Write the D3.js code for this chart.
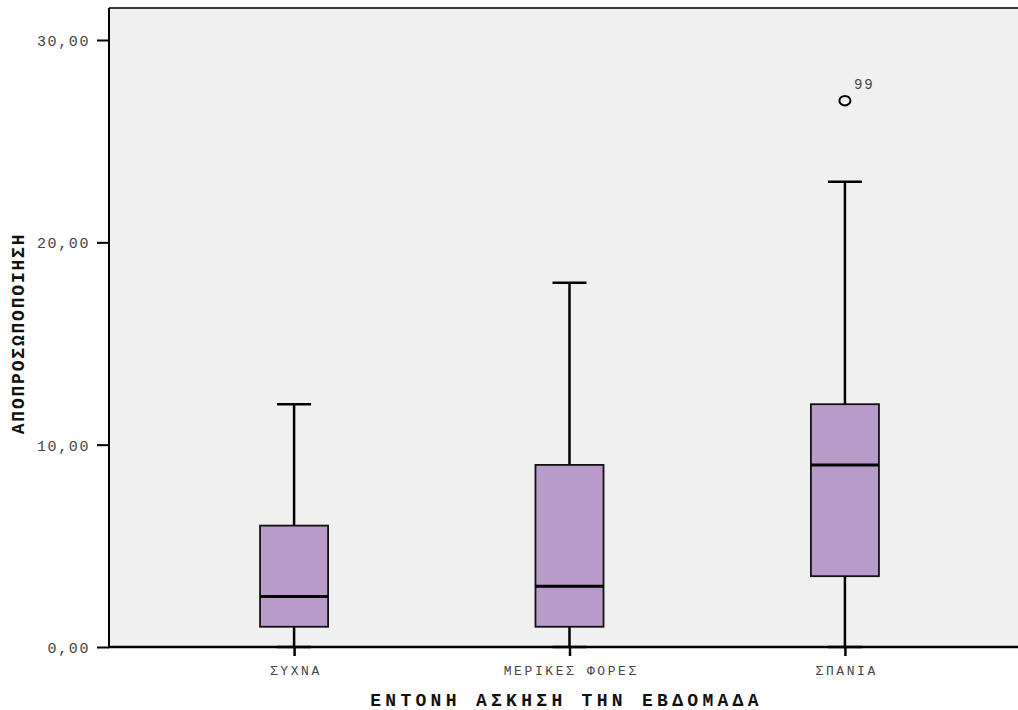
<!DOCTYPE html>
<html>
<head>
<meta charset="utf-8">
<script src="https://cdn.jsdelivr.net/npm/d3@7"></script>
<style>
  html, body { margin: 0; padding: 0; background: #ffffff; }
  svg { display: block; }
</style>
</head>
<body>
<svg id="chart" width="1018" height="710"></svg>
<script>
// Group labels (exercise frequency)
const categories = ["ΣΥΧΝΑ", "ΜΕΡΙΚΕΣ ΦΟΡΕΣ", "ΣΠΑΝΙΑ"];
// Five-number summaries per group
const whiskerLow  = [0, 0, 0];
const quartile1   = [1, 1, 3.5];
const medians     = [2.5, 3, 9];
const quartile3   = [6, 9, 12];
const whiskerHigh = [12, 18, 23];
// Outliers: group, value, case id
const outlierGroups = ["ΣΠΑΝΙΑ"];
const outlierValues = [27];
const outlierIds    = ["99"];
// Axis ticks and titles
const yTicks = [0, 10, 20, 30];
const xTitle = "ΕΝΤΟΝΗ ΑΣΚΗΣΗ ΤΗΝ ΕΒΔΟΜΑΔΑ";
const yTitle = "ΑΠΟΠΡΟΣΩΠΟΠΟΙΗΣΗ";

const svg = d3.select("#chart");
const plot = { left: 109, top: 8, right: 1030, bottom: 647 };
const font = "'Liberation Mono', 'DejaVu Sans Mono', monospace";

const x = d3.scalePoint().domain(categories).range([plot.left, plot.right]).padding(0.672);
const y = d3.scaleLinear().domain([0, 30]).range([plot.bottom, 40]);
const boxW = x.step() * 0.247;
const capW = boxW / 2;

// Plot background
svg.append("rect")
  .attr("x", plot.left).attr("y", plot.top)
  .attr("width", plot.right - plot.left).attr("height", plot.bottom - plot.top)
  .attr("fill", "#f0f0f0");
svg.append("line")
  .attr("x1", plot.left).attr("x2", plot.right)
  .attr("y1", plot.top).attr("y2", plot.top)
  .attr("stroke", "#3a3a3a").attr("stroke-width", 2);

const rows = categories.map((c, i) => ({
  c, lo: whiskerLow[i], q1: quartile1[i], med: medians[i], q3: quartile3[i], hi: whiskerHigh[i]
}));

const g = svg.append("g");
rows.forEach(r => {
  const cx = x(r.c);
  // whisker stems
  g.append("line").attr("x1", cx).attr("x2", cx).attr("y1", y(r.q3)).attr("y2", y(r.hi))
    .attr("stroke", "#000").attr("stroke-width", 2.5);
  g.append("line").attr("x1", cx).attr("x2", cx).attr("y1", y(r.q1)).attr("y2", y(r.lo))
    .attr("stroke", "#000").attr("stroke-width", 2.5);
  // caps
  [r.hi, r.lo].forEach(v => {
    g.append("line").attr("x1", cx - capW / 2).attr("x2", cx + capW / 2)
      .attr("y1", y(v)).attr("y2", y(v))
      .attr("stroke", "#000").attr("stroke-width", 2.5);
  });
  // box
  g.append("rect")
    .attr("x", cx - boxW / 2).attr("y", y(r.q3))
    .attr("width", boxW).attr("height", y(r.q1) - y(r.q3))
    .attr("fill", "#b99bc9").attr("stroke", "#111").attr("stroke-width", 1.8);
  // median
  g.append("line").attr("x1", cx - boxW / 2).attr("x2", cx + boxW / 2)
    .attr("y1", y(r.med)).attr("y2", y(r.med))
    .attr("stroke", "#000").attr("stroke-width", 3);
});

// Outliers
outlierValues.forEach((v, i) => {
  const cx = x(outlierGroups[i]);
  g.append("ellipse").attr("cx", cx).attr("cy", y(v)).attr("rx", 5.5).attr("ry", 4.8)
    .attr("fill", "none").attr("stroke", "#000").attr("stroke-width", 2);
  g.append("text").attr("x", cx + 9).attr("y", y(v) - 12)
    .attr("font-family", font).attr("font-size", 14).attr("letter-spacing", 2)
    .attr("fill", "#444").text(outlierIds[i]);
});

// Y axis
const yAxis = svg.append("g")
  .attr("transform", `translate(${plot.left},0)`)
  .call(d3.axisLeft(y).tickValues(yTicks).tickSize(12).tickSizeOuter(0)
    .tickFormat(d => d.toFixed(2).replace(".", ",")));
yAxis.select(".domain").remove();
yAxis.selectAll(".tick line").attr("stroke", "#000").attr("stroke-width", 2);
yAxis.selectAll(".tick text")
  .attr("font-family", font).attr("font-size", 15).attr("letter-spacing", 1.6)
  .attr("fill", "#444").attr("x", -19).attr("dy", "0.36em");
svg.append("line")
  .attr("x1", plot.left).attr("x2", plot.left)
  .attr("y1", plot.top).attr("y2", plot.bottom)
  .attr("stroke", "#000").attr("stroke-width", 2);

// X axis
const xAxis = svg.append("g")
  .attr("transform", `translate(0,${plot.bottom})`)
  .call(d3.axisBottom(x).tickSize(9).tickSizeOuter(0));
xAxis.select(".domain").remove();
xAxis.selectAll(".tick line").attr("stroke", "#000").attr("stroke-width", 2.5);
xAxis.selectAll(".tick text")
  .attr("font-family", font).attr("font-size", 13).attr("letter-spacing", 2.6)
  .attr("fill", "#444").attr("y", 19).attr("dy", "0.71em").attr("dx", 1.3);
svg.append("line")
  .attr("x1", plot.left - 1).attr("x2", plot.right)
  .attr("y1", plot.bottom).attr("y2", plot.bottom)
  .attr("stroke", "#000").attr("stroke-width", 2.5);

// Axis titles
svg.append("text")
  .attr("x", (plot.left + plot.right) / 2 - 3).attr("y", 706)
  .attr("text-anchor", "middle")
  .attr("font-family", font).attr("font-weight", "bold").attr("font-size", 18)
  .attr("letter-spacing", 4.3).attr("fill", "#111").text(xTitle);
svg.append("text")
  .attr("transform", `translate(24,${(plot.top + plot.bottom) / 2 + 6}) rotate(-90)`)
  .attr("text-anchor", "middle")
  .attr("font-family", font).attr("font-weight", "bold").attr("font-size", 18)
  .attr("letter-spacing", 1.8).attr("fill", "#111").text(yTitle);
</script>
</body>
</html>
